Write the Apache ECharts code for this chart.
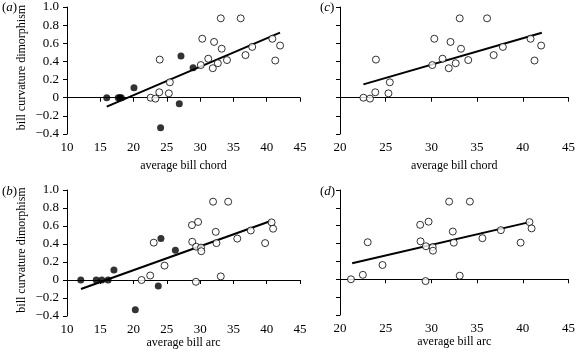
<!DOCTYPE html>
<html>
<head>
<meta charset="utf-8">
<script src="https://cdn.jsdelivr.net/npm/echarts@6/dist/echarts.min.js"></script>
<style>
  html, body { margin: 0; padding: 0; background: #fff; }
  #chart { width: 578px; height: 354px; }
</style>
</head>
<body>
<div id="chart"></div>
<script>
// y values are shared: filled birds (black dots) and open birds (circles)
const filledY = [0, 0, 0, 0, 0.11, -0.33, -0.066, 0.46, 0.33];
const openY = [0, -0.01, 0.06, 0.42, 0.048, 0.17, 0.36, 0.65, 0.43, 0.325, 0.615, 0.38, 0.875, 0.54, 0.415, 0.875, 0.47, 0.56, 0.65, 0.41, 0.575];

// average bill chord
const chordFilledX = [15.97, 17.7, 17.95, 18.15, 20.06, 24.06, 26.87, 27.12, 28.94];
const chordOpenX = [22.56, 23.28, 23.86, 23.93, 25.3, 25.45, 30.1, 30.32, 31.22, 31.9, 32.09, 32.66, 33.1, 33.24, 34.03, 36.09, 36.81, 37.82, 40.85, 41.28, 42.01];

// average bill arc
const arcFilledX = [12.07, 14.39, 15.23, 16.17, 17.05, 20.26, 23.71, 24.11, 26.28];
const arcOpenX = [21.2, 22.5, 23.03, 24.65, 28.77, 28.81, 29.36, 29.4, 29.69, 30.14, 30.17, 31.94, 32.34, 32.45, 33.1, 34.21, 35.58, 37.6, 39.76, 40.73, 40.96];
const arcOpenY = [0, 0.05, 0.415, 0.16, 0.61, 0.425, -0.02, 0.37, 0.645, 0.36, 0.32, 0.87, 0.535, 0.41, 0.04, 0.87, 0.46, 0.55, 0.41, 0.64, 0.57];

// regression line end points [[x0, y0], [x1, y1]]
const fitA = [[15.97, -0.099], [42.0, 0.717]];
const fitC = [[22.56, 0.147], [42.08, 0.717]];
const fitB = [[12.1, -0.1], [40.6, 0.655]];
const fitD = [[21.33, 0.18], [40.73, 0.64]];

const yTicks = [-0.4, 1.0, 0.2];
const panelLabels = ['a', 'c', 'b', 'd'];

const font = 'Liberation Serif';
const zip = (xs, ys) => xs.map((x, i) => [x, ys[i]]);

const yLabel = v => {
  if (Math.abs(v) < 1e-9) return '0';
  return v.toFixed(1).replace('-', '\u2212');
};

const grids = [
  { left: 67, top: 7, width: 233, height: 127 },
  { left: 340, top: 7, width: 231, height: 127 },
  { left: 67, top: 190, width: 233, height: 126 },
  { left: 340, top: 190, width: 231, height: 125 }
];

const xAxisDef = (i, min, name, gap) => ({
  gridIndex: i,
  type: 'value',
  min: min,
  max: 45,
  interval: 5,
  name: name,
  nameLocation: 'middle',
  nameGap: gap,
  nameTextStyle: { fontFamily: font, fontSize: 12, color: '#000' },
  axisLine: { lineStyle: { color: '#000', width: 1 } },
  axisTick: { show: true, length: 4, lineStyle: { color: '#000' } },
  axisLabel: { fontFamily: font, fontSize: 13, color: '#000', margin: 7 },
  splitLine: { show: false }
});

const yAxisDef = (i, labels) => ({
  gridIndex: i,
  type: 'value',
  min: yTicks[0],
  max: yTicks[1],
  interval: yTicks[2],
  name: labels ? 'bill curvature dimorphism' : '',
  nameLocation: 'middle',
  nameGap: 39,
  nameTextStyle: { fontFamily: font, fontSize: 12, color: '#000', padding: [0, 0, 0, 6] },
  axisLine: { show: true, lineStyle: { color: '#000', width: 1 } },
  axisTick: { show: true, length: 4, lineStyle: { color: '#000' } },
  axisLabel: { show: labels, fontFamily: font, fontSize: 13, color: '#000', margin: 8, formatter: yLabel },
  splitLine: { show: false }
});

const dots = (i, data, filled) => ({
  type: 'scatter',
  xAxisIndex: i,
  yAxisIndex: i,
  data: data,
  symbol: 'circle',
  symbolSize: 7,
  z: 3,
  itemStyle: filled
    ? { color: '#000', borderColor: '#000', borderWidth: 0 }
    : { color: '#fff', borderColor: '#000', borderWidth: 1 }
});

const fit = (i, pts) => ({
  type: 'line',
  xAxisIndex: i,
  yAxisIndex: i,
  data: pts,
  showSymbol: false,
  z: 2,
  lineStyle: { color: '#000', width: 2 }
});

const chart = echarts.init(document.getElementById('chart'), null, { renderer: 'canvas' });
chart.setOption({
  animation: false,
  backgroundColor: '#fff',
  title: panelLabels.map((p, i) => ({
    text: '{n|(}{i|' + p + '}{n|)}',
    left: i % 2 === 0 ? 2 : 320,
    top: i < 2 ? 1 : 185,
    padding: 0,
    textStyle: {
      fontWeight: 'normal',
      rich: {
        n: { fontFamily: font, fontSize: 13, fontWeight: 'normal', color: '#000' },
        i: { fontFamily: font, fontSize: 13, fontWeight: 'normal', fontStyle: 'italic', color: '#000' }
      }
    }
  })),
  grid: grids,
  xAxis: [
    xAxisDef(0, 10, 'average bill chord', 26),
    xAxisDef(1, 20, 'average bill chord', 26),
    xAxisDef(2, 10, 'average bill arc', 20),
    xAxisDef(3, 20, 'average bill arc', 20)
  ],
  yAxis: [yAxisDef(0, true), yAxisDef(1, false), yAxisDef(2, true), yAxisDef(3, false)],
  series: [
    fit(0, fitA),
    dots(0, zip(chordOpenX, openY), false),
    dots(0, zip(chordFilledX, filledY), true),
    fit(1, fitC),
    dots(1, zip(chordOpenX, openY), false),
    fit(2, fitB),
    dots(2, zip(arcOpenX, arcOpenY), false),
    dots(2, zip(arcFilledX, filledY), true),
    fit(3, fitD),
    dots(3, zip(arcOpenX, arcOpenY), false)
  ]
});
</script>
</body>
</html>
